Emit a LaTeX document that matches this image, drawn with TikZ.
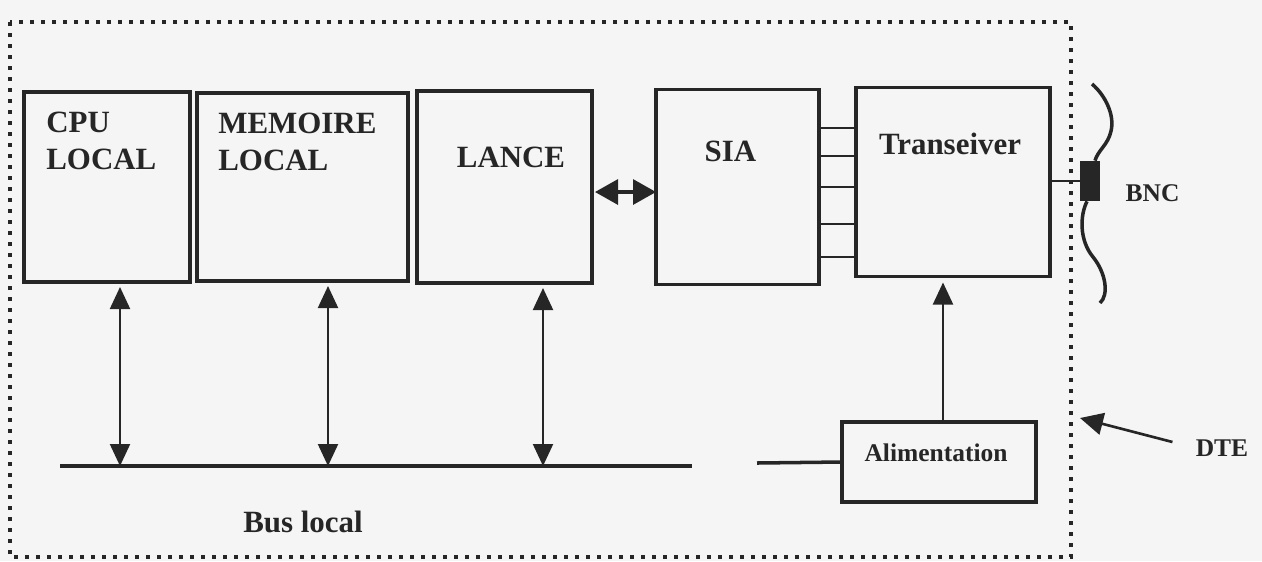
\documentclass[tikz,border=0pt]{standalone}
\usepackage{fontspec}
\setmainfont{Liberation Serif}
\usepackage{tikz}
\usetikzlibrary{positioning}
\usetikzlibrary{arrows.meta}
\colorlet{encre}{black!85}
\tikzstyle{bloc} = [rectangle, draw=encre, line width=2pt, inner sep=0pt, outer sep=0pt]
\tikzstyle{titre} = [font=\bfseries\fontsize{17.6}{21}\selectfont, align=left, inner sep=0pt, text=encre]
\tikzstyle{petit} = [font=\bfseries\fontsize{14.5}{17}\selectfont, inner sep=0pt, text=encre]
\tikzstyle{fleche} = [draw=encre, line width=1.2pt, {Triangle[length=0.44cm,width=0.4cm]}-{Triangle[length=0.44cm,width=0.4cm]}]
\tikzstyle{fleche1} = [draw=encre, line width=1.2pt, -{Triangle[length=0.44cm,width=0.4cm]}]
\tikzstyle{bus} = [draw=encre, line width=2pt]
\tikzstyle{fil} = [draw=encre, line width=1.2pt]
\tikzstyle{cable} = [draw=encre, line width=2pt]
\tikzstyle{cadre} = [draw=encre, line width=0.085cm, dash pattern=on 0.085cm off 0.135cm]

\begin{document}
\begin{tikzpicture}
\useasboundingbox[fill=black!4] (0,0) rectangle (25.24,-11.22);
% cadre DTE
\draw[cadre] (0.2,-0.44) rectangle (21.42,-11.14);

% blocs
\node (cpu) [bloc, minimum width=3.32cm, minimum height=3.8cm] at (2.14,-3.74) {};
\node (mem) [bloc, minimum width=4.22cm, minimum height=3.76cm, right=0.14cm of cpu] {};
\node (lance) [bloc, minimum width=3.5cm, minimum height=3.84cm, right=0.18cm of mem] {};
\node (sia) [bloc, minimum width=3.26cm, minimum height=3.9cm, right=1.28cm of lance] {};
\node (trans) [bloc, minimum width=3.88cm, minimum height=3.78cm, right=0.74cm of sia, yshift=0.1cm] {};
\node (alim) [bloc, minimum width=3.88cm, minimum height=1.6cm] at (18.78,-9.24) {};
\node (bnc) [rectangle, fill=encre, minimum width=0.4cm, minimum height=0.8cm, inner sep=0pt] at (21.8,-3.62) {};

% textes
\node (cputxt) [titre, below right=0.4cm and 0.44cm of cpu.north west] {CPU\\LOCAL};
\node (memtxt) [titre, below right=0.4cm and 0.42cm of mem.north west] {MEMOIRE\\LOCAL};
\node (lancetxt) [titre, below=1.12cm of lance.north, xshift=0.13cm] {LANCE};
\node (siatxt) [titre, below=1.03cm of sia.north, xshift=-0.14cm] {SIA};
\node (transtxt) [titre, below=0.9cm of trans.north, xshift=-0.06cm] {Transeiver};
\node (alimtxt) [petit, below=0.42cm of alim.north, xshift=-0.06cm] {Alimentation};
\node (bnctxt) [petit, right=0.5cm of bnc, yshift=-0.24cm] {BNC};
\node (dte) [petit] at (24.44,-8.96) {DTE};
\node (bustxt) [titre] at (6.06,-10.44) {Bus local};

% bus local
\coordinate (busg) at (1.2,-9.32);
\coordinate (busm) at (13.84,-9.32);
\coordinate (busr) at (15.14,-9.26);
\draw[bus] (busg) -- (busm);
\draw[bus] (busr) -- (alim.west);

% acces au bus
\coordinate (cpub) at ([xshift=0.26cm]cpu.south);
\coordinate (memb) at ([xshift=0.51cm]mem.south);
\coordinate (lanceb) at ([xshift=0.77cm]lance.south);
\draw[fleche, shorten <=0.1cm] (cpub) -- (cpub |- busg);
\draw[fleche, shorten <=0.1cm] (memb) -- (memb |- busg);
\draw[fleche, shorten <=0.1cm] (lanceb) -- (lanceb |- busg);

% LANCE <-> SIA
\draw[draw=encre, line width=1.8pt, {Triangle[length=0.46cm,width=0.5cm]}-{Triangle[length=0.46cm,width=0.5cm]}, shorten <=0.06cm] ([yshift=-0.1cm]lance.east) -- ([yshift=-0.1cm]sia.west);

% SIA - Transeiver
\draw[fil] (sia.east |- 0,-2.56) -- (trans.west |- 0,-2.56);
\draw[fil] (sia.east |- 0,-3.12) -- (trans.west |- 0,-3.12);
\draw[fil] (sia.east |- 0,-3.74) -- (trans.west |- 0,-3.74);
\draw[fil] (sia.east |- 0,-4.48) -- (trans.west |- 0,-4.48);
\draw[fil] (sia.east |- 0,-5.14) -- (trans.west |- 0,-5.14);

% alimentation
\coordinate (alimh) at ([xshift=0.08cm]alim.north);
\draw[fleche1, shorten >=0.12cm] (alimh) -- (alimh |- trans.south);

% BNC et cable
\draw[draw=encre, line width=0.9pt] (trans.east |- bnc) -- (bnc.west);
\draw[cable] (21.84,-1.68) .. controls (22.1,-1.9) and (22.3,-2.3) .. (22.22,-2.62) .. controls (22.16,-2.9) and (21.96,-3.0) .. ([xshift=0.1cm]bnc.north);
\draw[cable] ([xshift=-0.06cm]bnc.south) .. controls (21.6,-4.3) and (21.58,-4.8) .. (21.86,-5.14) .. controls (22.12,-5.46) and (22.18,-5.9) .. (22.0,-6.06);

% DTE
\coordinate (dtepointe) at (21.6,-8.36);
\draw[draw=encre, line width=1.5pt, -{Triangle[length=0.46cm,width=0.44cm]}] ([xshift=-0.46cm,yshift=0.12cm]dte.west) -- (dtepointe);
\end{tikzpicture}
\end{document}
